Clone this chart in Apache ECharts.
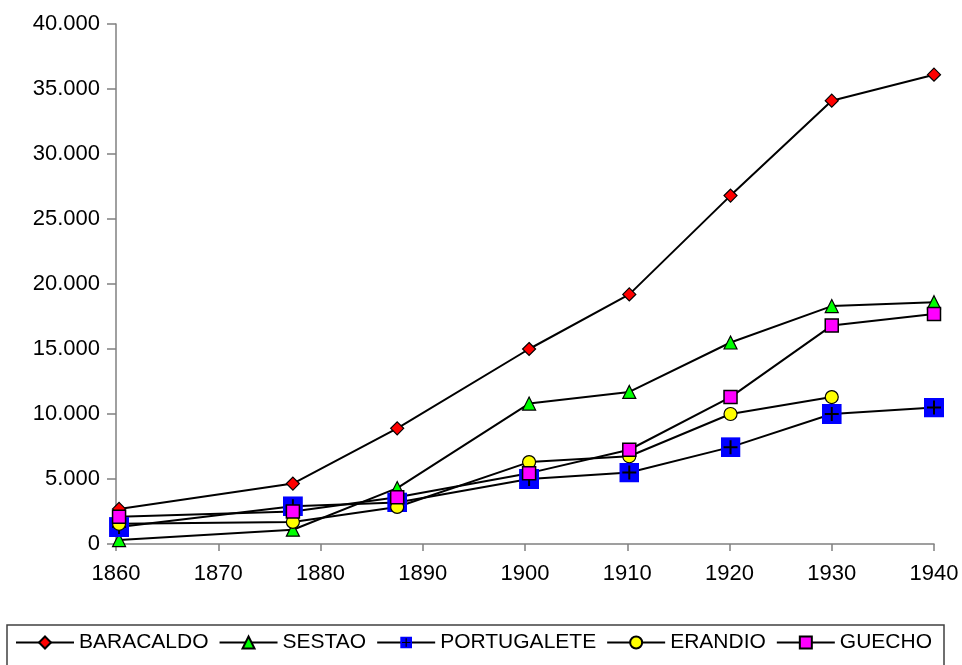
<!DOCTYPE html>
<html>
<head>
<meta charset="utf-8">
<script src="https://cdn.jsdelivr.net/npm/echarts@6/dist/echarts.min.js"></script>
<style>
html,body{margin:0;padding:0;background:#fff;}
#chart{width:962px;height:665px;}
</style>
</head>
<body>
<div id="chart"></div>
<script>
// Data
var years = [1860.3, 1877.3, 1887.5, 1900.4, 1910.2, 1920.1, 1930.0, 1940.0];
var baracaldo  = [2700, 4650, 8900, 15000, 19200, 26800, 34100, 36100];
var sestao     = [300, 1100, 4300, 10800, 11700, 15500, 18300, 18600];
var portugalete= [1300, 2900, 3200, 5000, 5500, 7450, 10000, 10500];
var erandio    = [1550, 1700, 2850, 6300, 6750, 10000, 11300, null];
var guecho     = [2100, 2500, 3600, 5450, 7250, 11300, 16800, 17700];
var seriesNames = ['BARACALDO', 'SESTAO', 'PORTUGALETE', 'ERANDIO', 'GUECHO'];
var xTicks = {min: 1860, max: 1940, interval: 10};
var yTicks = {min: 0, max: 40000, interval: 5000};

function pairs(vals) {
  var out = [];
  for (var i = 0; i < years.length; i++) {
    if (vals[i] !== null) out.push([years[i], vals[i]]);
  }
  return out;
}

var portSvg = "<svg xmlns='http://www.w3.org/2000/svg' width='20' height='20' viewBox='0 0 20 20'>" +
  "<rect width='20' height='20' fill='#0000FF'/>" +
  "<path d='M10 3V17M3 10H17' stroke='#000' stroke-width='2'/></svg>";
var portSymbol = 'image://data:image/svg+xml;charset=utf-8,' + encodeURIComponent(portSvg);

var font = 'Liberation Sans, Arial, sans-serif';

function mk(name, data, symbol, size, color, border) {
  return {
    name: name,
    type: 'line',
    data: pairs(data),
    symbol: symbol,
    symbolSize: size,
    showAllSymbol: true,
    clip: false,
    connectNulls: false,
    lineStyle: {color: '#000', width: 2},
    itemStyle: {color: color, borderColor: '#000', borderWidth: border},
    emphasis: {disabled: true},
    animation: false
  };
}

var chart = echarts.init(document.getElementById('chart'), null, {renderer: 'canvas'});
chart.setOption({
  backgroundColor: '#fff',
  animation: false,
  textStyle: {fontFamily: font},
  grid: {left: 116, right: 28, top: 24, bottom: 121, containLabel: false},
  xAxis: {
    type: 'value',
    min: xTicks.min, max: xTicks.max, interval: xTicks.interval,
    axisLine: {show: true, onZero: false, lineStyle: {color: '#808080', width: 1.5}},
    axisTick: {show: true, inside: false, length: 7, lineStyle: {color: '#808080', width: 1.5}},
    axisLabel: {color: '#000', fontSize: 22, fontFamily: font, margin: 19,
      formatter: function (v) { return String(v); }},
    splitLine: {show: false}
  },
  yAxis: {
    type: 'value',
    min: yTicks.min, max: yTicks.max, interval: yTicks.interval,
    axisLine: {show: true, lineStyle: {color: '#808080', width: 1.5}},
    axisTick: {show: true, inside: false, length: 9, lineStyle: {color: '#808080', width: 1.5}},
    axisLabel: {
      color: '#000', fontSize: 22, fontFamily: font, margin: 16,
      formatter: function (v) {
        return String(v).replace(/\B(?=(\d{3})+(?!\d))/g, '.');
      }
    },
    splitLine: {show: false}
  },
  legend: {
    data: seriesNames,
    left: 7,
    top: 625,
    width: 948,
    padding: [7, 12, 14, 8],
    borderColor: '#404040',
    borderWidth: 1.5,
    itemWidth: 58,
    itemHeight: 15,
    itemGap: 10,
    textStyle: {color: '#000', fontSize: 21, fontFamily: font},
    selectedMode: false
  },
  series: [
    mk('BARACALDO', baracaldo, 'diamond', 13, '#FF0000', 1.2),
    mk('SESTAO', sestao, 'triangle', 13, '#00FF00', 1.2),
    mk('PORTUGALETE', portugalete, portSymbol, 20, '#0000FF', 0),
    mk('ERANDIO', erandio, 'circle', 13, '#FFFF00', 1.2),
    mk('GUECHO', guecho, 'rect', 13, '#FF00FF', 1.5)
  ]
});
</script>
</body>
</html>
